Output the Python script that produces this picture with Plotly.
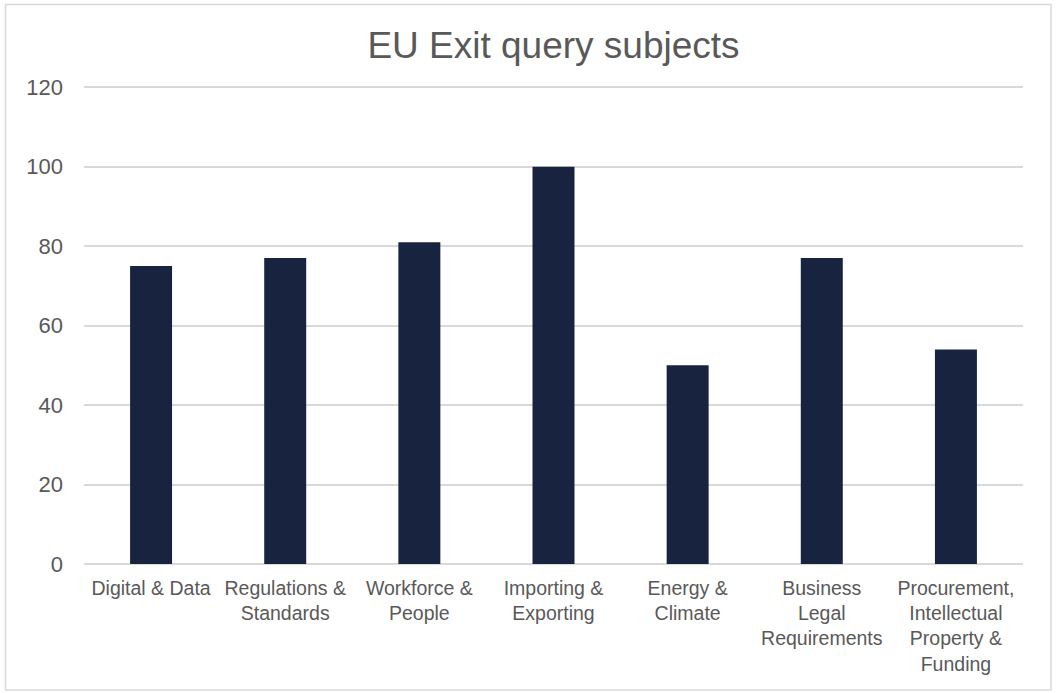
import plotly.graph_objects as go

categories = [
    "Digital & Data",
    "Regulations & Standards",
    "Workforce & People",
    "Importing & Exporting",
    "Energy & Climate",
    "Business Legal Requirements",
    "Procurement, Intellectual Property & Funding",
]
tick_labels = [
    "Digital & Data",
    "Regulations &<br>Standards",
    "Workforce &<br>People",
    "Importing &<br>Exporting",
    "Energy &<br>Climate",
    "Business<br>Legal<br>Requirements",
    "Procurement,<br>Intellectual<br>Property &<br>Funding",
]
values = [75, 77, 81, 100, 50, 77, 54]
y_ticks = [0, 20, 40, 60, 80, 100, 120]

W, H = 1057, 693
L, R, T, B = 84, 34, 86, 129
pw, ph = W - L - R, H - T - B

fig = go.Figure(
    go.Bar(
        x=categories,
        y=values,
        marker=dict(color="#18243f", line=dict(width=0)),
        hoverinfo="x+y",
    )
)

def px_to_paper_x(px):
    return (px - L) / pw

def px_to_paper_y(py):
    return (H - B - py) / ph

fig.add_shape(
    type="rect", xref="paper", yref="paper",
    x0=px_to_paper_x(5.5), x1=px_to_paper_x(1051),
    y0=px_to_paper_y(690), y1=px_to_paper_y(4.5),
    line=dict(color="#d9d9d9", width=1.5), fillcolor="rgba(0,0,0,0)", layer="below",
)

fig.update_layout(
    width=W, height=H,
    margin=dict(l=L, r=R, t=T, b=B, autoexpand=False),
    paper_bgcolor="white", plot_bgcolor="white",
    bargap=0.687,
    showlegend=False,
    font=dict(family="Liberation Sans, Arial, sans-serif", color="#595959"),
    title=dict(
        text="EU Exit query subjects",
        x=0.5, xanchor="center", xref="paper",
        y=1 - 45 / H, yanchor="middle",
        font=dict(size=37, color="#595959"),
    ),
    xaxis=dict(
        tickmode="array", tickvals=categories, ticktext=tick_labels,
        tickangle=0, showgrid=False, showline=False, ticks="",
        tickfont=dict(size=19.5, color="#595959"),
        automargin=False, ticklabelstandoff=10,
    ),
    yaxis=dict(
        range=[0, 120.3], tickmode="array", tickvals=y_ticks,
        showgrid=True, gridcolor="#d9d9d9", gridwidth=1.5,
        zeroline=True, zerolinecolor="#d9d9d9", zerolinewidth=1.5,
        showline=False, ticks="",
        tickfont=dict(size=22, color="#595959"),
        automargin=False, ticklabelstandoff=20,
    ),
)

fig.write_html(
    "out.html",
    config={"displayModeBar": False},
    post_script="document.body.style.margin='0';document.body.style.overflow='hidden';",
)
